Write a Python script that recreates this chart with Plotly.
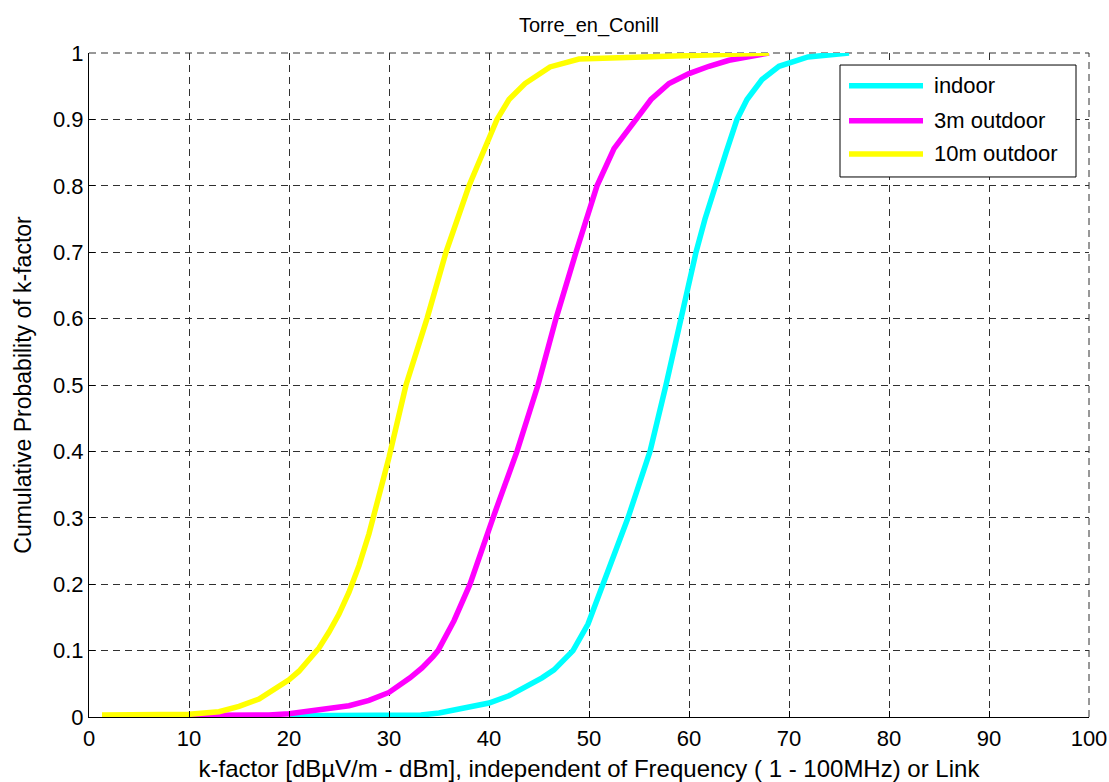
import plotly.graph_objects as go

# k-factor CDF per antenna placement (x: k-factor in dB, y: cumulative probability)
indoor_k = [20, 25, 30, 33.2, 35, 36.9, 38.5, 40, 42, 44, 45.3, 46.5, 47.5, 48.4, 49.9,
            51.4, 52.7, 53.9, 55.0, 56.1, 57.7, 59.2, 60.7, 61.6, 62.6, 63.7, 64.8, 65.8,
            67.3, 69.0, 71.9, 76]
indoor_p = [0.002, 0.002, 0.002, 0.003, 0.006, 0.011, 0.016, 0.021, 0.032, 0.048, 0.059,
            0.071, 0.085, 0.1, 0.14, 0.2, 0.25, 0.3, 0.35, 0.4, 0.5, 0.6, 0.7, 0.75, 0.8,
            0.85, 0.9, 0.93, 0.96, 0.98, 0.994, 1.0]

out3m_k = [5, 10, 15, 18, 20, 23, 26, 28, 30, 32.1, 33.3, 34.4, 34.9, 36.5, 38.1, 40.4,
           42.8, 44.9, 46.7, 48.7, 50.8, 52.5, 54.8, 56.2, 58.0, 60.0, 62.0, 64.0, 68.0]
out3m_p = [0.002, 0.002, 0.002, 0.003, 0.005, 0.01, 0.017, 0.025, 0.037, 0.059, 0.074,
           0.091, 0.1, 0.145, 0.2, 0.3, 0.4, 0.5, 0.6, 0.7, 0.8, 0.856, 0.9, 0.93, 0.954,
           0.969, 0.98, 0.989, 1.0]

out10m_k = [1.3, 5, 10, 13, 15, 17, 19, 20, 21, 22, 23, 24, 25, 26, 27, 28, 29, 30,
            31.7, 33.8, 35.7, 38.0, 40.8, 42.0, 43.6, 46.1, 49, 55, 60, 65, 68]
out10m_p = [0.003, 0.003, 0.004, 0.008, 0.016, 0.027, 0.045, 0.056, 0.069, 0.085, 0.104,
            0.128, 0.155, 0.188, 0.228, 0.276, 0.331, 0.391, 0.5, 0.6, 0.7, 0.8, 0.9,
            0.93, 0.954, 0.979, 0.991, 0.994, 0.996, 0.998, 1.0]

series_names = ["indoor", "3m outdoor", "10m outdoor"]
series_colors = ["#00FFFF", "#FF00FF", "#FFFF00"]
series_data = [(indoor_k, indoor_p), (out3m_k, out3m_p), (out10m_k, out10m_p)]

x_ticks = list(range(0, 101, 10))
y_ticks = [round(i * 0.1, 1) for i in range(11)]
y_tick_text = ["0"] + [f"{v:g}" for v in y_ticks[1:-1]] + ["1"]

FONT = "Liberation Sans, Arial, sans-serif"

fig = go.Figure()
for name, color, (k, p) in zip(series_names, series_colors, series_data):
    fig.add_trace(go.Scatter(x=k, y=p, mode="lines", name=name,
                             line=dict(color=color, width=5.5),
                             showlegend=False))

grid = dict(showgrid=True, gridcolor="#303030", gridwidth=1, griddash="7px,5px")

fig.update_layout(
    width=1109, height=782,
    margin=dict(l=89, r=20, t=53, b=65, autoexpand=False),
    paper_bgcolor="white", plot_bgcolor="white",
    showlegend=False,
    font=dict(family=FONT, size=22, color="black"),
    title=dict(text="Torre_en_Conill", x=0.5, xref="paper", xanchor="center",
               y=1 - 25 / 782, yref="container", yanchor="middle",
               font=dict(family=FONT, size=20, color="black")),
    xaxis=dict(range=[0, 100], tickvals=x_ticks, ticks="inside", ticklen=6,
               tickcolor="black", showline=True, linecolor="black", linewidth=1,
               zeroline=False, tickfont=dict(size=22), automargin=False,
               ticklabelstandoff=2,
               title=dict(text="k-factor [dBµV/m - dBm], independent of Frequency ( 1 - 100MHz) or Link",
                          font=dict(size=24), standoff=11),
               **grid),
    yaxis=dict(range=[0, 1], tickvals=y_ticks, ticktext=y_tick_text, ticks="inside",
               ticklen=6, tickcolor="black", showline=True, linecolor="black",
               linewidth=1, zeroline=False, tickfont=dict(size=22), automargin=False,
               title=dict(text="Cumulative Probability of k-factor",
                          font=dict(size=23), standoff=14),
               **grid),
)

# Top and right box edges drawn as dashed grid lines
for shp in [dict(x0=0, x1=1, y0=1, y1=1), dict(x0=1, x1=1, y0=0, y1=1)]:
    fig.add_shape(type="line", xref="paper", yref="paper", layer="below",
                  line=dict(color="#303030", width=1, dash="7px,5px"), **shp)

# Legend box in the upper right corner
fig.add_shape(type="rect", xref="paper", yref="paper",
              x0=0.751, x1=0.987, y0=0.8133, y1=0.9819,
              line=dict(color="black", width=1), fillcolor="white", layer="above")
row_y = [0.9508, 0.898, 0.8479]
for name, color, yy in zip(series_names, series_colors, row_y):
    fig.add_shape(type="line", xref="paper", yref="paper",
                  x0=0.760, x1=0.834, y0=yy, y1=yy,
                  line=dict(color=color, width=5.5), layer="above")
    fig.add_annotation(text=name, xref="paper", yref="paper", x=0.843, y=yy,
                       xanchor="left", yanchor="middle", showarrow=False,
                       font=dict(family=FONT, size=22, color="black"))

fig.write_html("out.html")
